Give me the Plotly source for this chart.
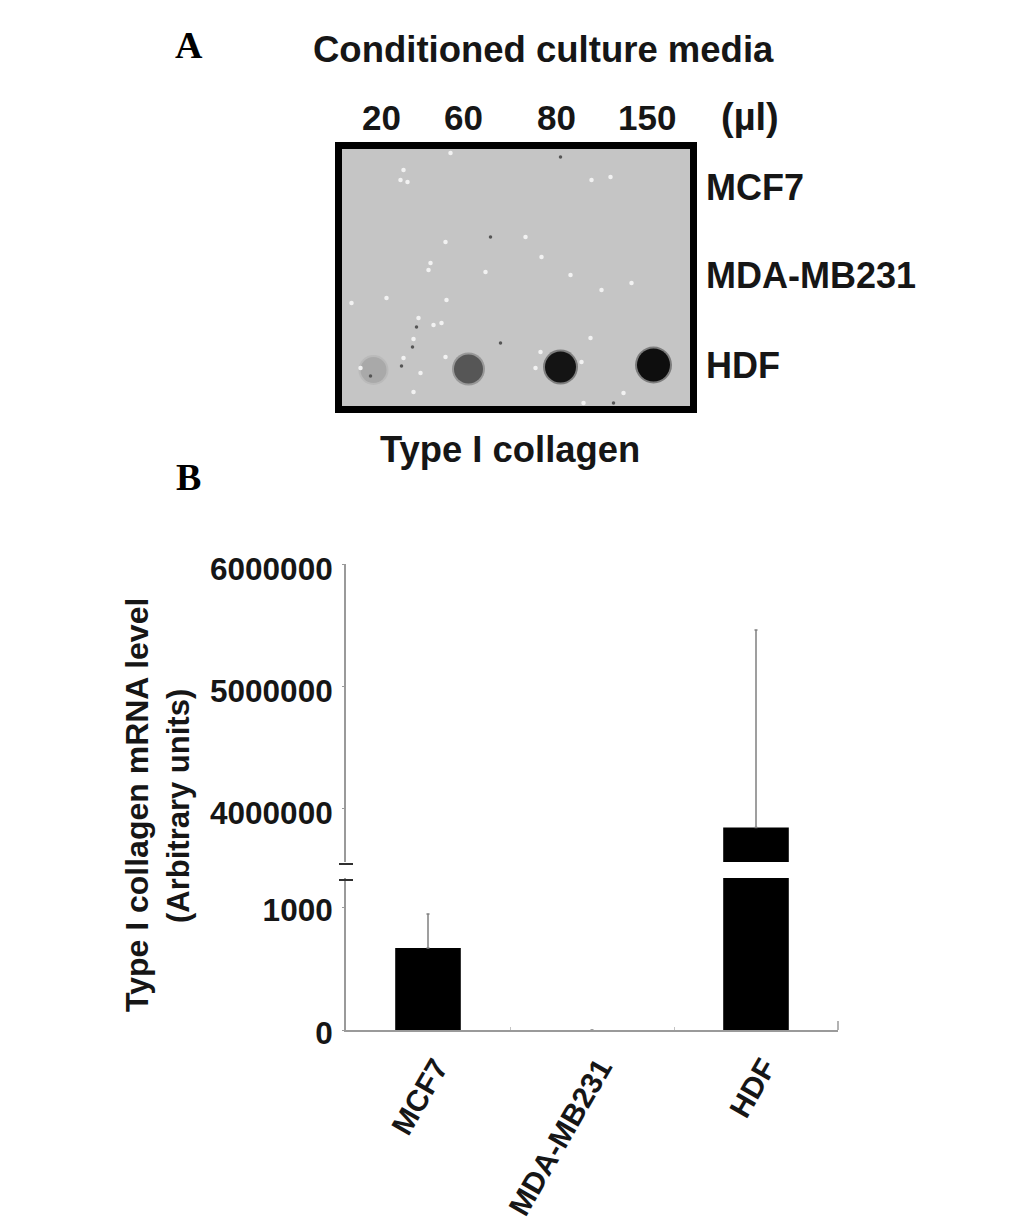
import plotly.graph_objects as go

# Panel A: dot blot (membrane coordinates, origin top-left)
dot_x = [35, 130, 222, 315]
dot_y = [224, 223, 221, 219]
dot_size = [26, 29, 31, 33]
dot_color = ["#a9a9a9", "#565656", "#141414", "#0e0e0e"]
speck_x = [112, 65, 62, 69, 253, 272, 107, 92, 90, 147, 203, 232, 293, 13, 48, 108, 80, 95, 103, 75, 252, 202, 65, 107, 22, 82, 243, 197, 285, 245, 75, 187, 263]
speck_y = [7, 24, 34, 36, 34, 31, 96, 117, 124, 126, 111, 129, 137, 157, 152, 154, 172, 179, 177, 193, 192, 206, 212, 211, 222, 227, 216, 222, 247, 257, 246, 91, 144]
dark_x = [152, 78, 74, 63, 162, 222, 32, 275]
dark_y = [91, 181, 201, 220, 197, 11, 230, 257]
lane_labels = ["20", "60", "80", "150"]
lane_label_px = [381, 463, 556, 647]
row_labels = ["MCF7", "MDA-MB231", "HDF"]
row_label_px = [187, 275, 365]

# Panel B: broken-axis bars
categories = ["MCF7", "MDA-MB231", "HDF"]
values = [667, 0, 3840000]
err_low = [276, 0, 0]
err_high = [0, 0, 1620000]

H = 1223.0
W = 1033.0
def py(p):
    return 1 - p / H
def px(p):
    return p / W

FONT = "Liberation Sans"
TXT = "#161616"
AXC = "#9a9a9a"
fig = go.Figure()

# Blot
fig.add_trace(go.Scatter(x=dot_x, y=dot_y, mode="markers", xaxis="x3", yaxis="y3", showlegend=False,
                         marker=dict(size=[s + 4 for s in dot_size], color=dot_color, opacity=0.4, line=dict(width=0))))
fig.add_trace(go.Scatter(x=dot_x, y=dot_y, mode="markers", xaxis="x3", yaxis="y3", showlegend=False,
                         marker=dict(size=dot_size, color=dot_color, opacity=1, line=dict(width=0))))
fig.add_trace(go.Scatter(x=speck_x, y=speck_y, mode="markers", xaxis="x3", yaxis="y3", showlegend=False,
                         marker=dict(size=4.5, color="#f2f2f2", line=dict(width=0))))
fig.add_trace(go.Scatter(x=dark_x, y=dark_y, mode="markers", xaxis="x3", yaxis="y3", showlegend=False,
                         marker=dict(size=3.5, color="#555555", line=dict(width=0))))

# Bars: lower and upper segment of the broken axis
bar_style = dict(marker=dict(color="#000000", line=dict(width=0)), width=0.4, showlegend=False)
err_style = dict(type="data", color="#808080", thickness=1.5, width=1.5)
fig.add_trace(go.Bar(x=categories, y=values, xaxis="x", yaxis="y",
                     error_y=dict(array=err_low, symmetric=False, **err_style), **bar_style))
fig.add_trace(go.Bar(x=categories, y=values, xaxis="x2", yaxis="y2",
                     error_y=dict(array=err_high, symmetric=False, **err_style), **bar_style))

tick_font = dict(family=FONT, size=31.5, color=TXT)
anns = []
def note(text, x, y, size, family=FONT, angle=0, xanchor="center", bold=True, color=TXT):
    anns.append(dict(text=f"<b>{text}</b>" if bold else text, x=px(x), y=py(y), xref="paper", yref="paper",
                     xanchor=xanchor, yanchor="middle", showarrow=False, textangle=angle,
                     font=dict(family=family, size=size, color=color)))

note("A", 189, 45, 38, family="Liberation Serif", color="#000000")
note("B", 188, 477, 38, family="Liberation Serif", color="#000000")
note("Conditioned culture media", 543, 49, 36.5)
for t, p in zip(lane_labels, lane_label_px):
    note(t, p, 117, 35)
note("(µl)", 750, 117, 38)
for t, p in zip(row_labels, row_label_px):
    note(t, 704, p, 36, xanchor="left")
note("Type I collagen", 510, 449, 36.4)
note("Type I collagen mRNA level", 137, 805, 32, angle=-90)
note("(Arbitrary units)", 178, 806, 31, angle=-90)

shapes = [dict(type="line", xref="paper", yref="paper", x0=px(339), x1=px(353), y0=py(p), y1=py(p),
               line=dict(color="#303030", width=2)) for p in (864, 880)]
shapes.append(dict(type="line", xref="paper", yref="paper", x0=px(838), x1=px(838), y0=py(1030), y1=py(1021),
                   line=dict(color=AXC, width=1.5)))

LOW_TOP = 878
UP_BOT = 862
fig.update_layout(
    width=1033, height=1223, margin=dict(l=0, r=0, t=0, b=0, autoexpand=False), autosize=False,
    paper_bgcolor="white", plot_bgcolor="white", barmode="overlay", annotations=anns, shapes=shapes,
    xaxis=dict(domain=[px(346), px(838)], anchor="y", type="category", range=[-0.5, 2.5], automargin=False,
               categoryorder="array", categoryarray=categories, tickson="boundaries",
               ticks="inside", ticklen=3, tickcolor="#c4c4c4", tickwidth=1, showline=True, linecolor=AXC, linewidth=2,
               showgrid=False, zeroline=False, tickangle=-60, tickfont=dict(family=FONT, size=30, color=TXT),
               tickprefix="<b>", ticksuffix="</b>", ticklabelstandoff=6, ticklabelshift=8),
    yaxis=dict(domain=[py(1030), py(LOW_TOP)], anchor="x", range=[0, (1030 - LOW_TOP) / 123 * 1000], automargin=False,
               tickvals=[0, 1000], ticktext=["<b>0</b>", "<b>1000</b>"], ticks="outside", ticklen=2,
               tickcolor=AXC, showline=True, linecolor=AXC, linewidth=2, showgrid=False, zeroline=False,
               tickfont=tick_font, ticklabelstandoff=3, ticklabelshift=3),
    xaxis2=dict(domain=[px(346), px(838)], anchor="y2", type="category", range=[-0.5, 2.5], automargin=False,
                categoryorder="array", categoryarray=categories, visible=False),
    yaxis2=dict(domain=[py(UP_BOT), py(564)], anchor="x2", range=[4000000 - (UP_BOT - 808) / 122 * 1000000, 6000000],
                automargin=False, tickvals=[4000000, 5000000, 6000000],
                ticktext=["<b>4000000</b>", "<b>5000000</b>", "<b>6000000</b>"], ticks="outside", ticklen=2,
                tickcolor=AXC, showline=True, linecolor=AXC, linewidth=2, showgrid=False, zeroline=False,
                tickfont=tick_font, ticklabelstandoff=3, ticklabelshift=5),
    xaxis3=dict(domain=[px(342), px(690)], anchor="y3", range=[3.5, 351.5], showticklabels=False, ticks="", automargin=False,
                showgrid=False, zeroline=False, showline=True, mirror=True, linecolor="#000000", linewidth=7),
    yaxis3=dict(domain=[py(406), py(149)], anchor="x3", range=[260, 3], showticklabels=False, ticks="", automargin=False,
                showgrid=False, zeroline=False, showline=True, mirror=True, linecolor="#000000", linewidth=7),
)
fig.add_shape(type="rect", xref="x3 domain", yref="y3 domain", x0=0, x1=1, y0=0, y1=1,
              fillcolor="#c5c5c5", line=dict(width=0), layer="below")

fig.write_html("out.html", config=dict(displayModeBar=False), post_script="document.body.style.margin='0';")
